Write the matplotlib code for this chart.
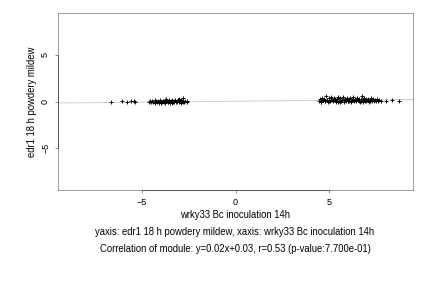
import numpy as np
import matplotlib
matplotlib.use("Agg")
import matplotlib.pyplot as plt

plt.rcParams['font.family'] = ['Liberation Sans', 'DejaVu Sans']

# ---------------------------------------------------------
# data (x: wrky33 Bc 14h, y: edr1 18h powdery mildew)
# ---------------------------------------------------------
left_x = [-6.65, -6.1, -5.83, -5.57, -5.45, -5.38,
          -4.65, -4.58, -4.5, -4.45, -4.4, -4.33, -4.28, -4.2, -4.15, -4.1,
          -4.05, -4.0, -3.95, -3.9, -3.85, -3.8, -3.76, -3.7, -3.65, -3.6,
          -3.55, -3.5, -3.45, -3.4, -3.36, -3.3, -3.25, -3.2, -3.15, -3.1,
          -3.05, -3.0, -2.95, -2.9, -2.85, -2.8, -2.75, -2.7, -2.62, -2.58,
          -4.3, -4.0, -3.7, -3.4, -3.1, -2.8, -3.9, -3.3, -2.9, -3.6]
left_y = [0.0, 0.02, -0.03, 0.01, 0.03, -0.01,
          -0.05, 0.02, -0.08, 0.05, 0.0, -0.12, 0.1, -0.04, 0.06, -0.15,
          0.12, 0.0, -0.1, 0.08, -0.02, 0.15, -0.2, 0.04, 0.1, -0.06,
          0.18, -0.12, 0.02, 0.14, -0.08, 0.06, 0.2, -0.1, 0.0, 0.12,
          -0.05, 0.25, 0.08, -0.12, 0.1, 0.35, -0.04, 0.05, 0.02, -0.06,
          0.15, -0.18, 0.22, -0.14, 0.18, -0.1, 0.05, 0.0, 0.15, -0.05]
right_x = [4.45, 4.5, 4.55, 4.6, 4.65, 4.7, 4.75, 4.8, 4.85, 4.9,
           4.95, 5.0, 5.05, 5.1, 5.15, 5.2, 5.25, 5.3, 5.35, 5.4,
           5.45, 5.5, 5.55, 5.6, 5.65, 5.7, 5.75, 5.8, 5.85, 5.9,
           5.95, 6.0, 6.05, 6.1, 6.15, 6.2, 6.25, 6.3, 6.35, 6.4,
           6.45, 6.5, 6.55, 6.6, 6.65, 6.7, 6.75, 6.8, 6.85, 6.9,
           6.95, 7.0, 7.05, 7.1, 7.15, 7.2, 7.25, 7.3, 7.35, 7.4,
           7.45, 7.5, 7.55, 7.6, 7.7, 7.8, 8.05, 8.4, 8.75,
           4.6, 4.8, 5.0, 5.2, 5.4, 5.6, 5.8, 6.0, 6.2, 6.4,
           6.6, 6.8, 7.0, 7.2, 4.7, 5.1, 5.5, 5.9, 6.3, 6.7, 7.1]
right_y = [0.05, 0.3, 0.1, 0.0, 0.4, 0.15, 0.25, 0.05, 0.55, 0.2,
           0.0, 0.35, 0.1, 0.45, 0.2, 0.05, 0.4, 0.15, 0.3, 0.0,
           0.25, 0.5, 0.1, 0.35, 0.05, 0.2, 0.45, 0.0, 0.3, 0.15,
           0.4, 0.05, 0.25, 0.1, 0.35, 0.0, 0.2, 0.5, 0.1, 0.3,
           0.05, 0.4, 0.15, 0.25, 0.0, 0.3, 0.55, 0.1, 0.2, 0.35,
           0.05, 0.25, 0.15, 0.3, 0.0, 0.2, 0.4, 0.1, 0.25, 0.05,
           0.2, 0.1, 0.3, 0.05, 0.15, 0.05, 0.1, 0.2, 0.1,
           0.0, 0.1, 0.05, 0.2, 0.1, 0.0, 0.15, 0.1, 0.05, 0.2,
           0.1, 0.0, 0.1, 0.05, 0.2, 0.15, 0.0, 0.1, 0.2, 0.05, 0.15]

slope, intercept = 0.02, 0.03
xlim = (-9.5, 9.5)
ylim = (-9.5, 9.5)
ticks = [-5, 0, 5]

fig = plt.figure(figsize=(6, 4), dpi=72)
ax = fig.add_axes([58 / 432, 1 - 190 / 288, 355 / 432, 177 / 288])

xs = np.array(xlim)
ax.plot(xs, slope * xs + intercept, color='#cccccc', lw=0.9, zorder=1)
ax.scatter(left_x + right_x, left_y + right_y, marker='+', s=22,
           color='black', linewidths=0.9, zorder=2)

ax.set_xlim(*xlim)
ax.set_ylim(*ylim)
ax.set_xticks(ticks)
ax.set_yticks(ticks)
ax.tick_params(labelsize=9, length=3, width=0.6, color='#444444', pad=5)
for lab in ax.get_yticklabels():
    lab.set_rotation(90)
    lab.set_va('center')
for s in ax.spines.values():
    s.set_color('#888888')
    s.set_linewidth(0.8)

# darker axis segment between first and last tick (R style)
ax.plot([ticks[0], ticks[-1]], [ylim[0], ylim[0]], color='#444444', lw=0.8,
        clip_on=False, zorder=3)
ax.plot([xlim[0], xlim[0]], [ticks[0], ticks[-1]], color='#444444', lw=0.8,
        clip_on=False, zorder=3)

ax.set_xlabel("wrky33 Bc inoculation 14h", fontsize=9.5, labelpad=3)
ax.set_ylabel("edr1 18 h powdery mildew", fontsize=9.5, labelpad=4)

fig.text(235 / 432, 1 - 232 / 288,
         "yaxis: edr1 18 h powdery mildew, xaxis: wrky33 Bc inoculation 14h",
         ha='center', va='center', fontsize=9.5)
fig.text(235 / 432, 1 - 249 / 288,
         "Correlation of module: y=0.02x+0.03, r=0.53 (p-value:7.700e-01)",
         ha='center', va='center', fontsize=9.5)

fig.savefig("out.png", dpi=72)
